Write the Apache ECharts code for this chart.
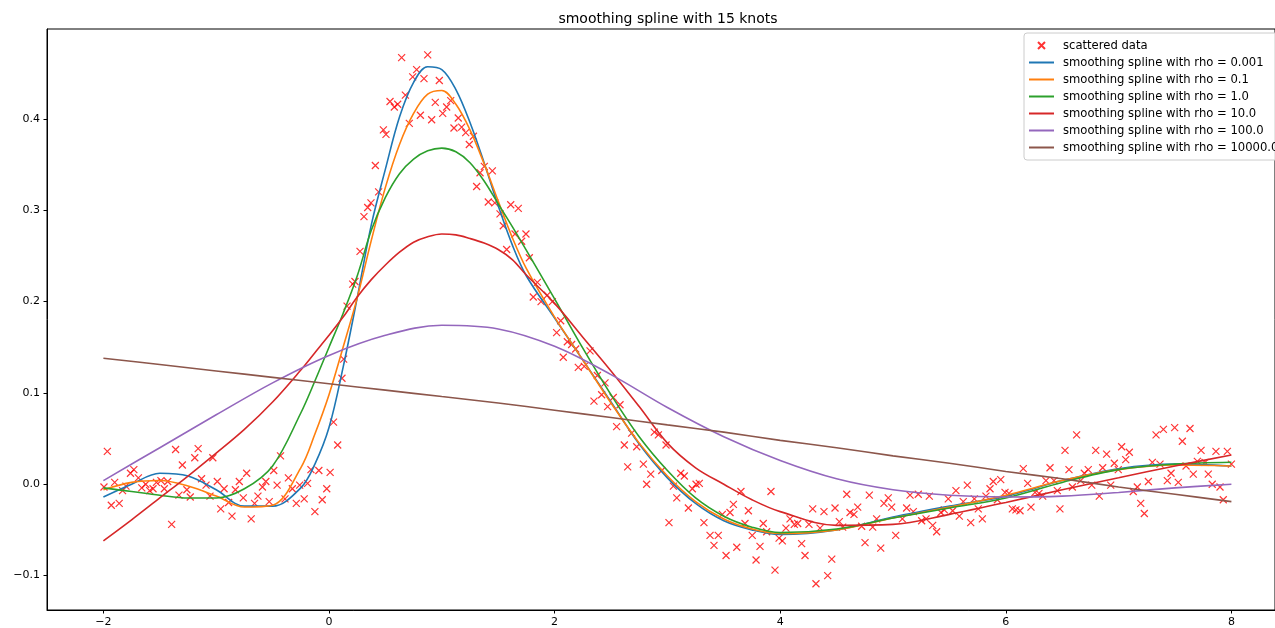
<!DOCTYPE html>
<html>
<head>
<meta charset="utf-8">
<script src="https://cdn.jsdelivr.net/npm/echarts@6/dist/echarts.min.js"></script>
<style>
html, body { margin: 0; padding: 0; background: #ffffff; }
#chart { width: 1275px; height: 628px; }
</style>
</head>
<body>
<div id="chart"></div>
<script>
// Noisy samples
const scatterX = [
  -1.995,-1.965,-1.93,-1.90,-1.86,-1.83,-1.80,-1.76,-1.73,-1.69,-1.66,-1.625,-1.59,-1.56,-1.53,-1.49,-1.46,-1.43,-1.395,-1.36,
  -1.33,-1.30,-1.26,-1.23,-1.19,-1.16,-1.13,-1.09,-1.055,-1.03,-0.99,-0.96,-0.93,-0.89,-0.86,-0.83,-0.795,-0.76,-0.73,-0.69,
  -0.66,-0.63,-0.59,-0.56,-0.53,-0.49,-0.46,-0.43,-0.39,-0.36,-0.325,-0.29,-0.26,-0.22,-0.19,-0.16,-0.125,-0.09,-0.06,-0.02,
  0.01,0.04,0.077,0.115,0.13,0.16,0.21,0.23,0.275,0.31,0.343,0.372,0.411,0.44,0.482,0.505,0.541,0.579,0.609,0.644,
  0.677,0.712,0.742,0.777,0.81,0.842,0.875,0.91,0.942,0.978,1.008,1.043,1.079,1.108,1.146,1.176,1.212,1.244,1.28,1.309,
  1.339,1.377,1.412,1.448,1.47,1.516,1.545,1.575,1.611,1.649,1.678,1.708,1.746,1.776,1.811,1.847,1.88,1.935,1.98,2.018,
  2.054,2.077,2.113,2.151,2.187,2.21,2.263,2.314,2.349,2.379,2.417,2.447,2.47,2.52,2.55,2.58,2.618,2.648,2.683,2.728,
  2.787,2.816,2.852,2.884,2.92,2.95,2.988,3.014,3.053,3.083,3.118,3.15,3.186,3.221,3.254,3.283,3.324,3.378,3.413,3.451,
  3.487,3.52,3.555,3.585,3.615,3.652,3.688,3.718,3.752,3.786,3.821,3.85,3.88,3.918,3.954,3.99,4.019,4.051,4.087,4.125,
  4.155,4.19,4.22,4.255,4.288,4.317,4.353,4.388,4.421,4.457,4.486,4.524,4.554,4.59,4.619,4.654,4.687,4.722,4.752,4.79,
  4.82,4.855,4.891,4.92,4.958,4.988,5.024,5.083,5.121,5.151,5.18,5.224,5.254,5.293,5.322,5.352,5.387,5.425,5.455,5.49,
  5.529,5.558,5.588,5.623,5.659,5.689,5.721,5.756,5.792,5.824,5.86,5.889,5.925,5.955,5.993,6.028,6.058,6.09,6.126,6.155,
  6.194,6.223,6.259,6.294,6.327,6.356,6.392,6.427,6.457,6.48,6.525,6.56,6.59,6.628,6.664,6.696,6.731,6.762,6.797,6.829,
  6.859,6.894,6.93,6.962,6.997,7.027,7.063,7.095,7.13,7.166,7.196,7.228,7.264,7.299,7.332,7.367,7.397,7.432,7.465,7.497,
  7.529,7.565,7.598,7.633,7.662,7.698,7.731,7.766,7.795,7.83,7.863,7.899,7.928,7.964,8.0
];
const scatterY = [
  -0.003,0.036,-0.023,0.002,-0.021,-0.007,-0.002,0.012,0.016,0.007,-0.004,0.0,-0.007,-0.005,0.002,0.004,-0.005,0.003,-0.044,0.038,
  -0.012,0.021,-0.006,-0.014,0.029,0.039,0.006,-0.001,-0.013,0.029,0.003,-0.027,-0.005,-0.020,-0.035,-0.006,0.003,-0.015,0.012,-0.038,
  -0.021,-0.013,-0.003,0.003,-0.019,0.015,-0.001,0.031,-0.016,0.007,-0.005,-0.021,-0.001,-0.016,0.001,0.016,-0.030,0.015,-0.017,-0.005,
  0.013,0.068,0.043,0.116,0.137,0.195,0.219,0.222,0.255,0.293,0.303,0.308,0.349,0.320,0.388,0.383,0.419,0.413,0.416,0.467,
  0.426,0.395,0.446,0.454,0.404,0.444,0.470,0.399,0.418,0.442,0.406,0.413,0.420,0.390,0.401,0.391,0.385,0.372,0.381,0.326,
  0.341,0.348,0.309,0.343,0.308,0.296,0.283,0.257,0.306,0.274,0.302,0.266,0.274,0.248,0.205,0.221,0.200,0.207,0.200,0.166,
  0.179,0.139,0.156,0.153,0.148,0.128,0.129,0.146,0.091,0.119,0.098,0.111,0.085,0.095,0.063,0.087,0.043,0.019,0.056,0.041,
  0.022,0.000,0.011,0.057,0.054,0.015,0.043,-0.042,-0.002,-0.015,0.012,0.009,-0.026,-0.005,0.0,0.001,-0.042,-0.056,-0.067,-0.056,
  -0.033,-0.078,-0.031,-0.022,-0.069,-0.008,-0.043,-0.029,-0.056,-0.083,-0.068,-0.043,-0.052,-0.008,-0.094,-0.059,-0.062,-0.048,-0.038,-0.044,
  -0.043,-0.065,-0.078,-0.044,-0.027,-0.109,-0.048,-0.030,-0.100,-0.082,-0.026,-0.041,-0.047,-0.011,-0.031,-0.033,-0.025,-0.046,-0.064,-0.012,
  -0.047,-0.038,-0.070,-0.021,-0.015,-0.025,-0.056,-0.038,-0.026,-0.012,-0.030,-0.011,-0.040,-0.038,-0.013,-0.045,-0.052,-0.031,-0.028,-0.016,
  -0.029,-0.007,-0.035,-0.019,-0.001,-0.042,-0.016,-0.027,-0.038,-0.013,-0.005,0.003,-0.017,0.005,-0.009,-0.010,-0.027,-0.028,-0.029,0.017,
  0.001,-0.025,-0.009,-0.010,-0.013,0.004,0.018,0.004,-0.007,-0.027,0.037,0.016,-0.003,0.054,0.004,0.012,0.016,-0.001,0.037,-0.013,
  0.018,0.033,-0.001,0.023,0.016,0.041,0.027,0.035,-0.008,-0.003,-0.021,-0.032,0.003,0.024,0.054,0.022,0.060,0.004,0.012,0.062,
  0.002,0.047,0.020,0.061,0.011,0.025,0.037,0.024,0.011,0.000,0.036,-0.003,-0.017,0.036,0.022
];

// Sample positions for the fitted curves
const fineX = [-2,-1.75,-1.5,-1.25,-1,-0.75,-0.5,-0.25,-0.125,0,0.125,0.25,0.375,0.5,0.625,0.75,0.875,1,1.125,1.25,
  1.375,1.5,1.625,1.75,2,2.25,2.5,2.75,3,3.25,3.5,3.75,4,4.5,5,5.5,6,6.5,7,7.5,8];
const wideX = [-2,-1.5,-1,-0.5,0,0.5,1,1.5,2,2.5,3,3.5,4,4.5,5,5.5,6,6.5,7,7.5,8];

// Fitted curves, one per smoothing parameter
const splineRho0001 = [-0.014,0.000,0.012,0.009,-0.006,-0.024,-0.024,-0.004,0.022,0.062,0.128,0.204,0.284,0.345,0.402,0.440,0.457,0.454,0.432,0.396,
  0.352,0.305,0.262,0.228,0.182,0.136,0.090,0.044,0.007,-0.021,-0.040,-0.050,-0.055,-0.050,-0.036,-0.024,-0.013,0.004,0.017,0.022,0.020];
const splineRho01 = [-0.006,0.002,0.004,-0.002,-0.013,-0.025,-0.023,0.018,0.055,0.098,0.150,0.204,0.267,0.325,0.372,0.406,0.427,0.431,0.416,0.388,
  0.351,0.310,0.270,0.236,0.183,0.136,0.089,0.045,0.009,-0.019,-0.038,-0.049,-0.054,-0.050,-0.037,-0.025,-0.012,0.004,0.016,0.021,0.020];
const splineRho1 = [-0.004,-0.008,-0.012,-0.015,-0.015,-0.005,0.020,0.078,0.113,0.150,0.187,0.228,0.278,0.314,0.340,0.356,0.365,0.368,0.364,0.352,
  0.332,0.307,0.282,0.256,0.203,0.149,0.098,0.052,0.015,-0.015,-0.035,-0.047,-0.053,-0.049,-0.037,-0.026,-0.015,0.002,0.016,0.022,0.024];
const splineRho10 = [-0.062,-0.039,-0.015,0.009,0.034,0.060,0.090,0.125,0.144,0.163,0.183,0.205,0.224,0.240,0.254,0.265,0.271,0.274,0.273,0.269,
  0.264,0.257,0.246,0.229,0.198,0.161,0.124,0.085,0.045,0.018,0.000,-0.017,-0.030,-0.045,-0.044,-0.033,-0.020,-0.006,0.007,0.020,0.032];
const splineRho100 = [0.004,0.040,0.076,0.111,0.141,0.163,0.174,0.170,0.151,0.120,0.084,0.052,0.026,0.006,-0.006,-0.012,-0.014,-0.013,-0.009,-0.004,0.000];
const splineRho10000 = [0.138,0.131,0.124,0.117,0.110,0.103,0.096,0.089,0.081,0.073,0.065,0.057,0.048,0.040,0.031,0.023,0.014,0.006,-0.003,-0.011,-0.019];

const xTicks = [-2, 0, 2, 4, 6, 8];
const yTicks = [-0.1, 0.0, 0.1, 0.2, 0.3, 0.4];

const seriesNames = [
  'scattered data',
  'smoothing spline with rho = 0.001',
  'smoothing spline with rho = 0.1',
  'smoothing spline with rho = 1.0',
  'smoothing spline with rho = 10.0',
  'smoothing spline with rho = 100.0',
  'smoothing spline with rho = 10000.0'
];
const lineColors = ['#1f77b4', '#ff7f0e', '#2ca02c', '#d62728', '#9467bd', '#8c564b'];

const FONT = 'DejaVu Sans';
const zip = (xs, ys) => xs.map((x, i) => [x, ys[i]]);
const minus = s => s.replace('-', '\u2212');

const curves = [
  [fineX, splineRho0001],
  [fineX, splineRho01],
  [fineX, splineRho1],
  [fineX, splineRho10],
  [wideX, splineRho100],
  [wideX, splineRho10000]
];

const series = [{
  name: seriesNames[0],
  type: 'scatter',
  data: zip(scatterX, scatterY),
  symbol: 'path://M0,0L10,10M10,0L0,10',
  symbolSize: 7,
  itemStyle: { color: 'rgba(0,0,0,0)', borderColor: '#ff0000', borderWidth: 1.2 },
  z: 2
}];
curves.forEach(([xs, ys], i) => {
  series.push({
    name: seriesNames[i + 1],
    type: 'line',
    data: zip(xs, ys),
    showSymbol: false,
    symbol: 'none',
    smooth: 0.35,
    lineStyle: { color: lineColors[i], width: 1.6 },
    itemStyle: { color: lineColors[i] },
    z: 3
  });
});

// Legend entries: lines only for the curves (no point marker)
const legendData = seriesNames.map((name, i) =>
  i === 0 ? { name } : { name, itemStyle: { opacity: 0 } }
);

const chart = echarts.init(document.getElementById('chart'), null, { renderer: 'canvas' });
chart.setOption({
  animation: false,
  backgroundColor: '#ffffff',
  title: {
    text: 'smoothing spline with 15 knots',
    left: 663,
    top: 7,
    textAlign: 'center',
    textStyle: { fontFamily: FONT, fontSize: 14, fontWeight: 'normal', color: '#000' }
  },
  legend: {
    orient: 'vertical',
    left: 1024,
    top: 33,
    padding: [6, 8, 6, 4],
    itemWidth: 25,
    itemHeight: 7,
    itemGap: 4,
    backgroundColor: 'rgba(255,255,255,0.8)',
    borderColor: '#cccccc',
    borderWidth: 1,
    borderRadius: 3,
    textStyle: { fontFamily: FONT, fontSize: 11.6, color: '#000', lineHeight: 13, padding: [0, 0, 0, 4] },
    data: legendData
  },
  grid: {
    left: 47,
    top: 29,
    right: 0,
    height: 582,
    show: true,
    borderColor: '#000',
    borderWidth: 1,
    containLabel: false
  },
  xAxis: {
    type: 'value',
    min: -2.5,
    max: 8.3865,
    splitLine: { show: false },
    axisLine: { show: true, onZero: false, lineStyle: { color: '#000', width: 1 } },
    axisTick: { show: true, inside: false, length: 3.5, customValues: xTicks, lineStyle: { color: '#000' } },
    axisLabel: {
      customValues: xTicks,
      margin: 7,
      fontFamily: FONT, fontSize: 11, color: '#000',
      formatter: v => minus(String(Math.round(v)))
    }
  },
  yAxis: {
    type: 'value',
    min: -0.1377,
    max: 0.4984,
    splitLine: { show: false },
    axisLine: { show: true, onZero: false, lineStyle: { color: '#000', width: 1 } },
    axisTick: { show: true, inside: false, length: 3.5, customValues: yTicks, lineStyle: { color: '#000' } },
    axisLabel: {
      customValues: yTicks,
      margin: 7,
      fontFamily: FONT, fontSize: 11, color: '#000',
      formatter: v => minus(v.toFixed(1))
    }
  },
  series: series
});
</script>
</body>
</html>
